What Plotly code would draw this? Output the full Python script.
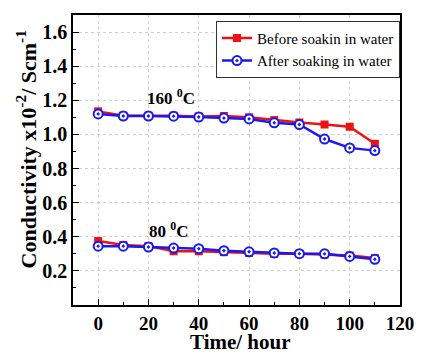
import plotly.graph_objects as go

time = [0, 10, 20, 30, 40, 50, 60, 70, 80, 90, 100, 110]
before_160 = [1.135, 1.11, 1.11, 1.11, 1.105, 1.108, 1.10, 1.084, 1.07, 1.058, 1.045, 0.945]
after_160 = [1.12, 1.108, 1.108, 1.107, 1.102, 1.096, 1.091, 1.068, 1.058, 0.973, 0.921, 0.905]
before_80 = [0.375, 0.352, 0.345, 0.315, 0.315, 0.31, 0.305, 0.30, 0.30, 0.296, 0.29, 0.275]
after_80 = [0.345, 0.345, 0.34, 0.334, 0.33, 0.318, 0.312, 0.305, 0.301, 0.30, 0.285, 0.268]

x_ticks = [0, 20, 40, 60, 80, 100, 120]
y_ticks = [0.2, 0.4, 0.6, 0.8, 1.0, 1.2, 1.4, 1.6]

RED = "#ee1111"
BLUE = "#1a1aee"
FONT = "Liberation Serif"

blue_marker = dict(symbol="circle-dot", size=9, color="white", line=dict(width=2, color=BLUE))
red_marker = dict(symbol="square", size=8, color=RED)

fig = go.Figure()
fig.add_trace(go.Scatter(x=time, y=before_160, mode="lines+markers", name="Before soakin in water",
                         line=dict(color=RED, width=2.5), marker=red_marker))
fig.add_trace(go.Scatter(x=time, y=after_160, mode="lines+markers", name="After soaking in water",
                         line=dict(color=BLUE, width=2.5), marker=blue_marker))
fig.add_trace(go.Scatter(x=time, y=before_80, mode="lines+markers", showlegend=False,
                         line=dict(color=RED, width=2.5), marker=red_marker))
fig.add_trace(go.Scatter(x=time, y=after_80, mode="lines+markers", showlegend=False,
                         line=dict(color=BLUE, width=2.5), marker=blue_marker))

axis_common = dict(showline=True, linecolor="black", linewidth=1.5, mirror=True,
                   ticks="inside", ticklen=6, tickwidth=1.2, tickcolor="black",
                   showgrid=True, gridcolor="#d0d0d0", griddash="dot", gridwidth=1,
                   zeroline=False)

fig.update_xaxes(range=[-10, 120], tickvals=x_ticks, ticktext=[str(v) for v in x_ticks],
                 tickfont=dict(family=FONT, size=19, color="black", weight="bold"),
                 minor=dict(dtick=10, tick0=0, ticks="inside", ticklen=3, tickcolor="black", showgrid=False),
                 **axis_common)
fig.update_yaxes(range=[0, 1.7], tickvals=y_ticks, ticktext=[f"{v:.1f}" for v in y_ticks],
                 tickfont=dict(family=FONT, size=20, color="black", weight="bold"),
                 minor=dict(dtick=0.1, tick0=0, ticks="inside", ticklen=3, tickcolor="black", showgrid=False),
                 **axis_common)

# axis titles as annotations for precise placement
fig.add_annotation(x=0.513, y=-0.128, xref="paper", yref="paper", text="Time/ hour", showarrow=False,
                   xanchor="center", yanchor="middle",
                   font=dict(family=FONT, size=21, color="black", weight="bold"))
fig.add_annotation(x=-0.1424, y=0.538, xref="paper", yref="paper",
                   text="Conductivity x10<sup>-2</sup>/ Scm<sup>-1</sup>", showarrow=False, textangle=-90,
                   xanchor="center", yanchor="middle",
                   font=dict(family=FONT, size=22, color="black", weight="bold"))

fig.add_annotation(x=29, y=1.22, text="160 <sup>0</sup>C", showarrow=False,
                   font=dict(family=FONT, size=17, color="black", weight="bold"))
fig.add_annotation(x=28, y=0.44, text="80 <sup>0</sup>C", showarrow=False,
                   font=dict(family=FONT, size=17, color="black", weight="bold"))

fig.update_layout(width=426, height=355, margin=dict(l=73, r=16, t=15, b=50),
                  plot_bgcolor="white", paper_bgcolor="white",
                  legend=dict(x=1.0, y=0.98, xanchor="right", yanchor="top",
                              bordercolor="#333333", borderwidth=1, bgcolor="white",
                              font=dict(family=FONT, size=15, color="black"),
                              tracegroupgap=0, itemwidth=30))

fig.write_html("out.html")
